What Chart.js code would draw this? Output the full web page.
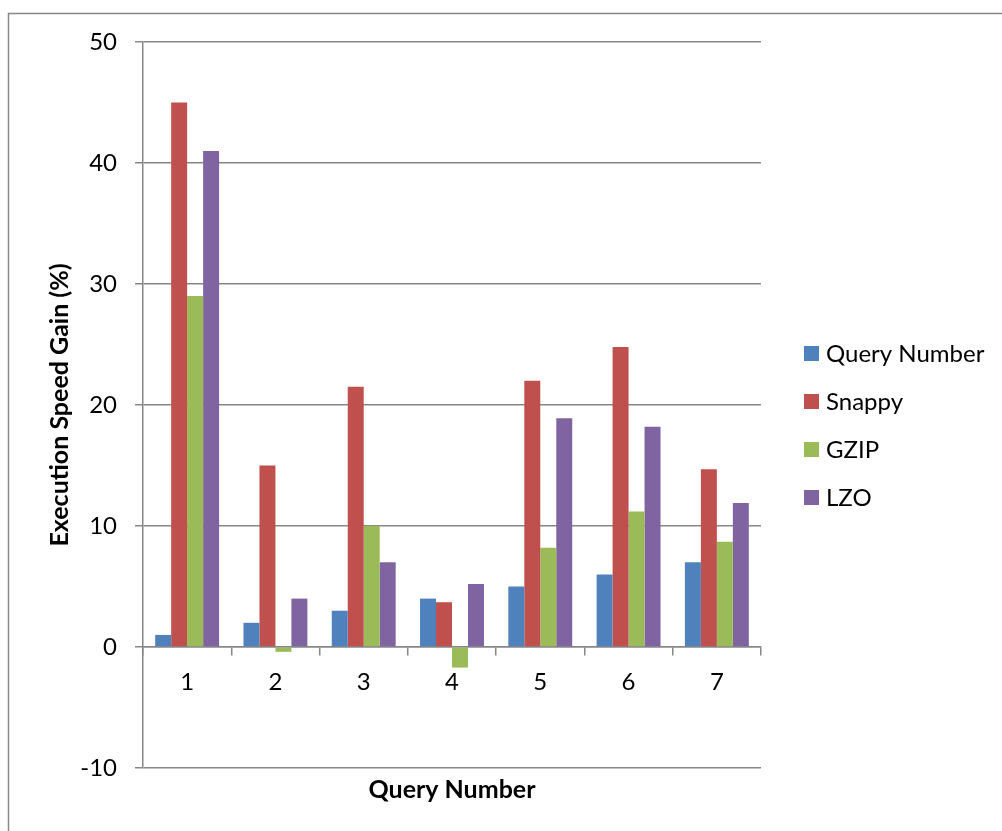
<!DOCTYPE html>
<html>
<head>
<meta charset="utf-8">
<style>
  html, body { margin: 0; padding: 0; background: #fff; }
  #wrap { width: 1002px; height: 831px; position: relative; }
</style>
<script src="https://cdn.jsdelivr.net/npm/chart.js@4/dist/chart.umd.min.js"></script>
</head>
<body>
<div id="wrap"><canvas id="chart" width="1002" height="831"></canvas></div>
<script>
// Query categories and per-codec execution speed gains (%)
const queries = ['1', '2', '3', '4', '5', '6', '7'];
const queryNumber = [1, 2, 3, 4, 5, 6, 7];
const snappy = [45, 15, 21.5, 3.7, 22, 24.8, 14.7];
const gzip = [29, -0.4, 10, -1.7, 8.2, 11.2, 8.7];
const lzo = [41, 4, 7, 5.2, 18.9, 18.2, 11.9];

const seriesNames = ['Query Number', 'Snappy', 'GZIP', 'LZO'];
const seriesColors = ['#4F81BD', '#C0504D', '#9BBB59', '#8064A2'];
const yTicks = { min: -10, max: 50, step: 10 };

const GRID = '#878787';
const LINE_W = 1.5;
const FONT = 'Lato';
Chart.defaults.font.family = FONT;
Chart.defaults.color = '#000';

// Frame around the whole figure
const framePlugin = {
  id: 'frame',
  beforeDraw(chart) {
    const ctx = chart.ctx;
    ctx.save();
    ctx.fillStyle = '#fff';
    ctx.fillRect(0, 0, chart.width, chart.height);
    ctx.strokeStyle = GRID;
    ctx.lineWidth = LINE_W;
    ctx.strokeRect(8.5, 13.5, chart.width + 20, chart.height + 20);
    ctx.restore();
  }
};

// Legend listed to the right of the plot
const sideLegend = {
  id: 'sideLegend',
  afterDraw(chart) {
    const ctx = chart.ctx;
    const x = 804, y0 = 353, gap = 48, box = 15;
    ctx.save();
    ctx.font = '24px ' + FONT;
    ctx.textBaseline = 'middle';
    ctx.textAlign = 'left';
    chart.data.datasets.forEach((ds, i) => {
      const y = y0 + i * gap;
      ctx.fillStyle = ds.backgroundColor;
      ctx.fillRect(x, Math.round(y - box / 2), box, box);
      ctx.fillStyle = '#000';
      ctx.fillText(ds.label, x + 22, y + 1);
    });
    ctx.restore();
  }
};

const seriesData = [queryNumber, snappy, gzip, lzo];

new Chart(document.getElementById('chart'), {
  type: 'bar',
  data: {
    labels: queries,
    datasets: seriesData.map((vals, i) => ({
      label: seriesNames[i],
      data: vals,
      backgroundColor: seriesColors[i],
      borderWidth: 0,
      categoryPercentage: 0.724,
      barPercentage: 1.0
    }))
  },
  options: {
    responsive: false,
    animation: false,
    layout: { padding: { left: 0, right: 241, top: 42, bottom: 0 } },
    plugins: { legend: { display: false }, tooltip: { enabled: false } },
    scales: {
      x: {
        position: { y: 0 },
        grid: { display: true, drawOnChartArea: false, drawTicks: true, tickLength: 8, offset: true, color: GRID, lineWidth: LINE_W },
        border: { display: true, color: GRID, width: LINE_W },
        ticks: { font: { size: 24 }, color: '#000', padding: 13, maxRotation: 0 }
      },
      xTitle: {
        type: 'category',
        position: 'bottom',
        grid: { display: false },
        border: { display: false },
        ticks: { display: false },
        title: { display: true, text: 'Query Number', font: { size: 25, weight: 'bold' }, color: '#000', padding: { top: 0, bottom: 26 } },
        afterFit(scale) { scale.height = 63; }
      },
      y: {
        min: yTicks.min,
        max: yTicks.max,
        ticks: { stepSize: yTicks.step, font: { size: 24 }, color: '#000', padding: 18 },
        grid: { color: GRID, lineWidth: LINE_W, tickLength: 8, drawTicks: true },
        border: { display: true, color: GRID, width: LINE_W },
        title: { display: true, text: 'Execution Speed Gain (%)', font: { size: 25, weight: 'bold' }, color: '#000', padding: { top: 45, bottom: 0 } },
        afterFit(scale) { scale.width = 143; }
      }
    }
  },
  plugins: [framePlugin, sideLegend]
});
</script>
</body>
</html>
